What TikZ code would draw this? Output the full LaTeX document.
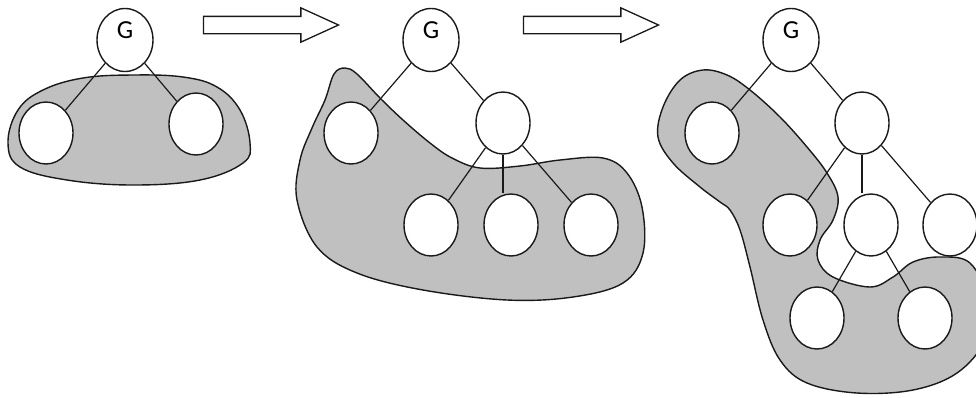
\documentclass[tikz,border=0pt]{standalone}
\usepackage{fontspec}
\setmainfont{Carlito}
\usepackage{tikz}
\usetikzlibrary{shapes.geometric,shapes.arrows}
\definecolor{blobfill}{RGB}{192,192,192}
\definecolor{ink}{RGB}{25,25,25}
\tikzset{
  tnode/.style ={ellipse, draw=ink, fill=white, line width=1.4pt,
                 minimum width=54pt, minimum height=62pt, inner sep=0pt},
  gnode/.style ={tnode, minimum width=56pt, minimum height=63pt,
                 label={[font=\fontsize{26}{30}\selectfont, yshift=10pt]center:G}},
  link/.style  ={draw=ink, line width=1.2pt},
  blob/.style  ={draw=ink, fill=blobfill, line width=1.4pt},
  % the hollow block arrow between two steps
  growarrow/.style={single arrow, draw=ink, fill=white, line width=1.3pt,
                 inner xsep=0pt, inner ysep=8pt, minimum height=135pt,
                 single arrow head extend=8.5pt, single arrow tip angle=49},
}
\begin{document}
\begin{tikzpicture}[x=1pt,y=-1pt]
\clip (0,0) rectangle (976,397);
% shaded groups
\path[blob] plot[smooth cycle, tension=0.65] coordinates {
  (18,110) (43,90) (83,78) (133,75) (183,77) (217,87) (240,110) (250,143)
  (243,163) (200,180) (133,185) (67,180) (20,167) (8,143)};
\path[blob] plot[smooth cycle, tension=0.6] coordinates {
  (345,68) (357,74) (380,98) (403,120) (430,143) (452,158) (480,168) (520,166)
  (560,160) (603,158) (627,173) (642,207) (643,253) (623,283) (573,297)
  (507,300) (423,290) (357,273) (317,247) (297,200) (300,160) (312,128)
  (325,100) (334,74)};
\path[blob] plot[smooth cycle, tension=0.6] coordinates {
  (703,70) (727,75) (750,90) (780,117) (807,147) (827,173) (838,197)
  (833,220) (820,240) (818,260) (833,277) (870,287) (893,277) (913,262)
  (940,257) (970,263) (988,300) (985,340) (957,373) (913,390) (857,393)
  (807,383) (780,360) (763,320) (750,267) (740,230) (730,210) (720,202)
  (700,187) (673,163) (658,137) (663,107) (680,80)};
% step arrows
\node[growarrow] (arr1) at (261.5,25) {};
\node[growarrow] (arr2) at (581.5,25) {};
% step 1
\node[gnode] (G1) at (125,40) {};
\foreach \n/\x/\y in {a1/46/133, b1/196/124}
  {\node[tnode] (\n) at (\x,\y) {};}
% step 2
\node[gnode] (G2) at (431,40) {};
\foreach \n/\x/\y in {a2/351/133, b2/503/123, c2/431/225, d2/511/225, e2/591/225}
  {\node[tnode] (\n) at (\x,\y) {};}
% step 3
\node[gnode] (G3) at (791,40) {};
\foreach \n/\x/\y in {a3/712/133, b3/862/123, c3/790/225, d3/871/225,
                      e3/950/225, f3/817/318, h3/925/318}
  {\node[tnode] (\n) at (\x,\y) {};}
\foreach \a/\b in {G1/a1, G1/b1, G2/a2, G2/b2, b2/c2, b2/e2,
                   G3/a3, G3/b3, b3/c3, b3/e3, d3/f3, d3/h3}
  {\draw[link] (\a) -- (\b);}
\draw[link] (b2.south) -- (b2.south |- d2.north);
\draw[link] (b3.south) -- (b3.south |- d3.north);
\end{tikzpicture}
\end{document}
